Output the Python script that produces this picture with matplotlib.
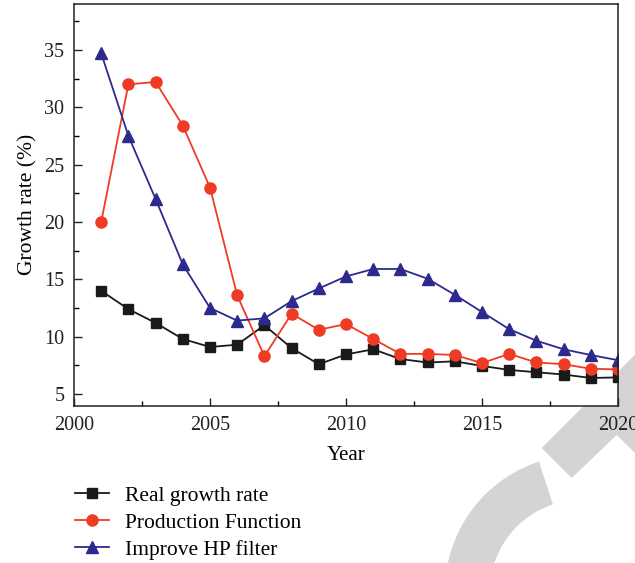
import matplotlib
matplotlib.use("Agg")
import matplotlib.pyplot as plt
from matplotlib.patches import Polygon, Wedge
from matplotlib.transforms import Affine2D
import numpy as np

years = list(range(2001, 2021))
real_growth = [14.0, 12.4, 11.2, 9.8, 9.1, 9.3, 11.0, 9.0, 7.6, 8.45,
               8.9, 8.05, 7.75, 7.85, 7.45, 7.1, 6.9, 6.7, 6.4, 6.45]
production_fn = [20.0, 32.0, 32.2, 28.4, 23.0, 13.6, 8.3, 12.0, 10.6, 11.1,
                 9.8, 8.5, 8.5, 8.4, 7.7, 8.5, 7.75, 7.6, 7.2, 7.15]
hp_filter = [34.7, 27.5, 22.0, 16.3, 12.5, 11.4, 11.6, 13.1, 14.2, 15.25,
             15.9, 15.9, 15.05, 13.65, 12.15, 10.65, 9.65, 8.9, 8.4, 7.95]
labels = ["Real growth rate", "Production Function", "Improve HP filter"]
xticks = [2000, 2005, 2010, 2015, 2020]
yticks = [5, 10, 15, 20, 25, 30, 35]

plt.rcParams['font.family'] = ['Liberation Serif', 'DejaVu Serif']
W, H = 635, 563
fig = plt.figure(figsize=(W / 100, H / 100), dpi=100)

# watermark (figure pixel coords, y downward)
def px(x, y):
    return (x / W, 1 - y / H)

gray = (0.83, 0.83, 0.83)
band = Polygon([px(541.7, 448), px(635, 354.7), px(635, 453), px(616.7, 435), px(571.7, 478)],
               closed=True, transform=fig.transFigure, facecolor=gray, edgecolor='none', zorder=0)
fig.patches.append(band)
arc = Wedge((581, H - 591), 136, 108, 215, width=45, facecolor=gray, edgecolor='none',
            transform=Affine2D().scale(1 / W, 1 / H) + fig.transFigure, zorder=0)
fig.patches.append(arc)

ax = fig.add_axes([74 / W, 1 - 405.5 / H, (618 - 74) / W, (405.5 - 4) / H])
ax.set_facecolor('white')
ax.set_zorder(1)

c_black = '#1a1a1a'
c_red = '#ef3b24'
c_blue = '#2d2a8e'
l1, = ax.plot(years, real_growth, color=c_black, lw=1.3, marker='s', ms=7, mec=c_black, mfc=c_black)
l2, = ax.plot(years, production_fn, color=c_red, lw=1.3, marker='o', ms=8, mec=c_red, mfc=c_red)
l3, = ax.plot(years, hp_filter, color=c_blue, lw=1.3, marker='^', ms=8.5, mec=c_blue, mfc=c_blue)

ax.set_xlim(2000, 2020)
ax.set_ylim(4, 39)
ax.set_xticks(xticks)
ax.set_yticks(yticks)
ax.set_xticks(np.arange(2002.5, 2020, 5), minor=True)
ax.set_yticks(np.arange(7.5, 39, 5), minor=True)
ax.tick_params(which='major', direction='in', length=6, width=1, labelsize=14.5, colors='#222222')
ax.tick_params(which='minor', direction='in', length=3.5, width=1)
ax.tick_params(axis='x', which='major', pad=7.5)
ax.tick_params(axis='y', which='major', pad=7)
for s in ax.spines.values():
    s.set_linewidth(1.1)
    s.set_color('#222222')

ax.set_xlabel('Year', fontsize=15, labelpad=8)
ax.set_ylabel('Growth rate (%)', fontsize=15.5, labelpad=5)

fig.legend([l1, l2, l3], labels, loc='upper left', bbox_to_anchor=(75 / W, 1 - 485.5 / H),
           frameon=False, fontsize=15.5, handlelength=1.6, handletextpad=0.7,
           labelspacing=0.33, borderpad=0, borderaxespad=0)

fig.savefig('out.png', dpi=100)
